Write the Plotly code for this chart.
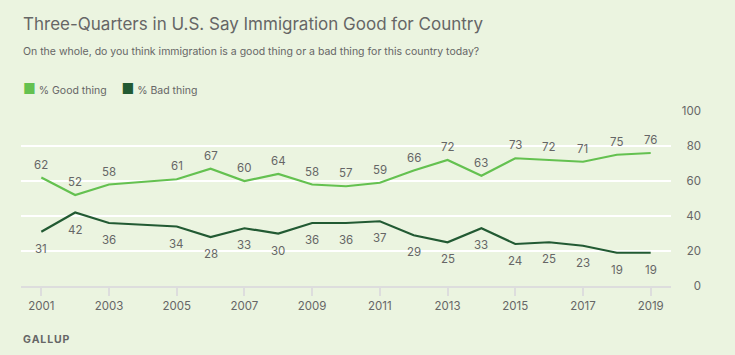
import plotly.graph_objects as go

years = [2001, 2002, 2003, 2005, 2006, 2007, 2008, 2009, 2010, 2011, 2012, 2013, 2014, 2015, 2016, 2017, 2018, 2019]
good = [62, 52, 58, 61, 67, 60, 64, 58, 57, 59, 66, 72, 63, 73, 72, 71, 75, 76]
bad = [31, 42, 36, 34, 28, 33, 30, 36, 36, 37, 29, 25, 33, 24, 25, 23, 19, 19]
x_ticks = [2001, 2003, 2005, 2007, 2009, 2011, 2013, 2015, 2017, 2019]
y_ticks = [0, 20, 40, 60, 80, 100]

BG = "#EBF4E0"
GOOD = "#64C150"
BAD = "#225A33"
TXT = "#666666"
FONT = "Inter"

fig = go.Figure()
fig.add_trace(go.Scatter(x=years, y=good, mode="lines", line=dict(color=GOOD, width=2.2),
                         showlegend=False, hoverinfo="skip"))
fig.add_trace(go.Scatter(x=years, y=bad, mode="lines", line=dict(color=BAD, width=2.2),
                         showlegend=False, hoverinfo="skip"))
for x, v in zip(years, good):
    fig.add_annotation(x=x, y=v, text=str(v), showarrow=False, yshift=13, yanchor="middle",
                       font=dict(size=11.5, color=TXT, family=FONT))
for x, v in zip(years, bad):
    fig.add_annotation(x=x, y=v, text=str(v), showarrow=False, yshift=-17, yanchor="middle",
                       font=dict(size=11.5, color=TXT, family=FONT))

W, H = 735, 355
ml, mr, mt, mb = 21, 34, 111, 69
pw = W - ml - mr
fig.update_layout(
    width=W, height=H,
    margin=dict(l=ml, r=mr, t=mt, b=mb, autoexpand=False),
    paper_bgcolor=BG, plot_bgcolor=BG,
    font=dict(family=FONT, color=TXT, size=11.5),
    xaxis=dict(domain=[0, 650 / pw], range=[2000.4, 2019.6], tickvals=x_ticks,
               ticks="outside", ticklen=8, tickwidth=2, tickcolor="#DDDDDD",
               showline=True, linecolor="#DDDDDD", linewidth=2, showgrid=False,
               zeroline=False, tickfont=dict(size=11.5, color=TXT)),
    yaxis=dict(range=[0, 100], tickvals=y_ticks, anchor="free", position=1, side="left",
               showgrid=True, gridcolor="#FFFFFF", gridwidth=2, zeroline=False,
               showline=False, ticks="", tickfont=dict(size=11.5, color=TXT)),
    showlegend=False,
)
fig.add_annotation(text="Three-Quarters in U.S. Say Immigration Good for Country", xref="paper", yref="paper",
                   x=0, y=(286 - 24) / 175, xanchor="left", yanchor="middle", showarrow=False,
                   font=dict(size=17, color=TXT, family=FONT))
fig.add_annotation(text="On the whole, do you think immigration is a good thing or a bad thing for this country today?",
                   xref="paper", yref="paper", x=0, y=(286 - 52) / 175, xanchor="left", yanchor="middle",
                   showarrow=False, font=dict(size=10.5, color=TXT, family=FONT))
legend_txt = (f'<span style="color:{GOOD};font-size:14px">■</span> % Good thing'
              f'     <span style="color:{BAD};font-size:14px">■</span> % Bad thing')
fig.add_annotation(text=legend_txt, xref="paper", yref="paper", x=0, y=(286 - 88) / 175,
                   xanchor="left", yanchor="middle", showarrow=False,
                   font=dict(size=10.5, color=TXT, family=FONT))
fig.add_annotation(text="<b>G\u200aA\u200aL\u200aL\u200aU\u200aP</b>", xref="paper", yref="paper", x=0,
                   y=(286 - 339) / 175, xanchor="left", yanchor="middle", showarrow=False,
                   font=dict(size=10.5, color=TXT, family=FONT))

fig.write_html("out.html", config={"displayModeBar": False},
               post_script="document.body.style.margin='0';document.body.style.overflow='hidden';")
